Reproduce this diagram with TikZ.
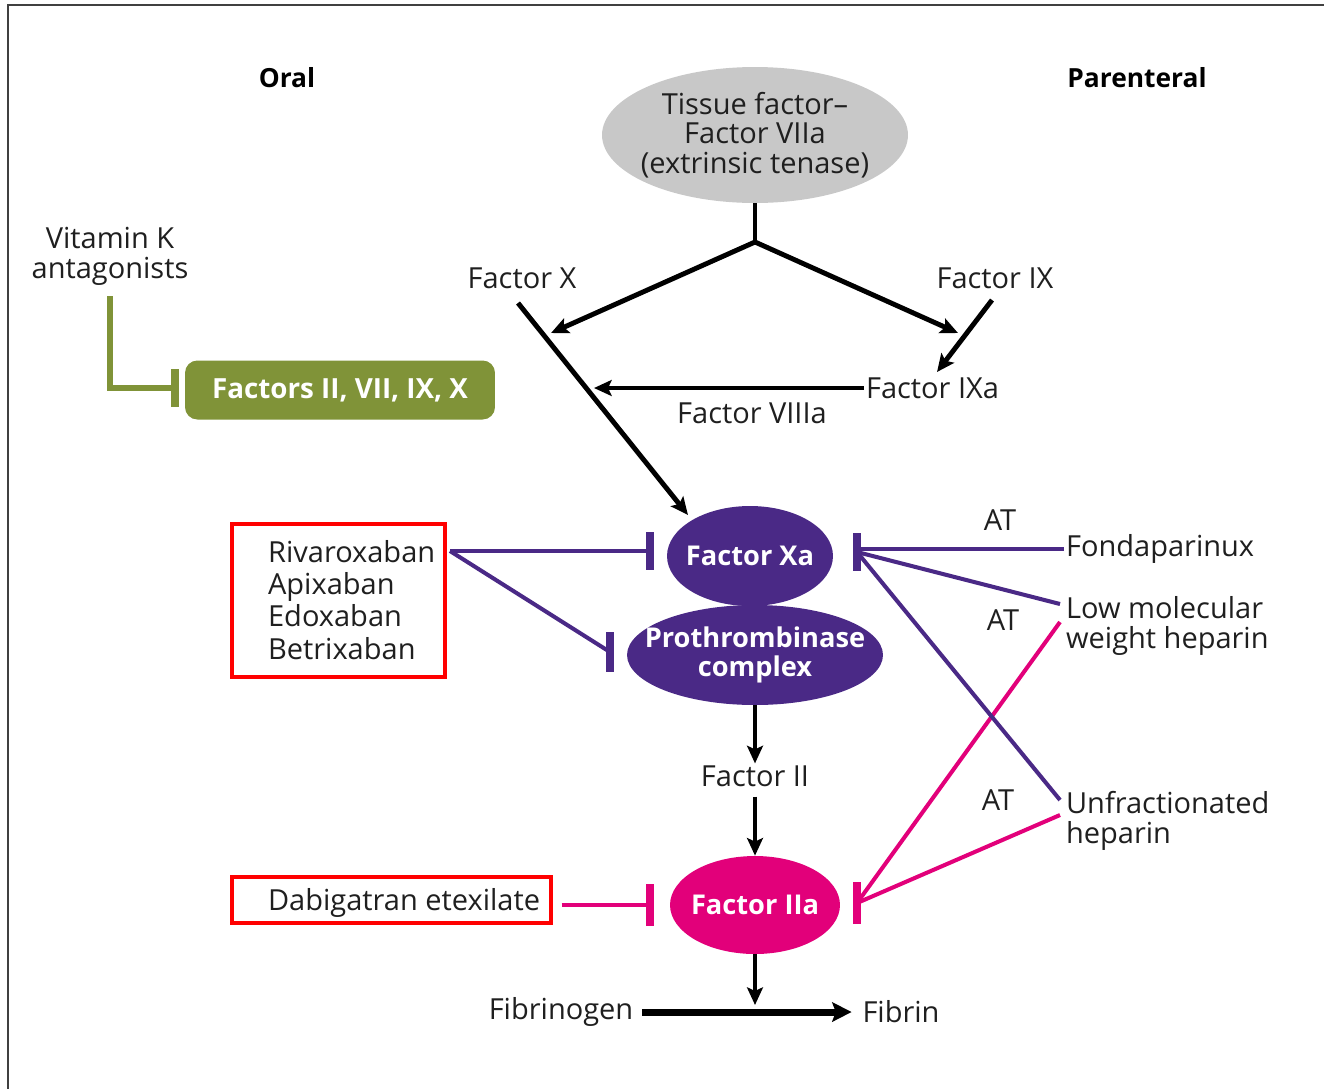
\documentclass[tikz,border=0pt]{standalone}
\usepackage{fontspec}
\setmainfont{Open Sans}
\usetikzlibrary{arrows.meta,shapes.geometric}
\definecolor{xapurple}{RGB}{74,41,134}
\definecolor{iiamagenta}{RGB}{226,0,122}
\definecolor{vkgreen}{RGB}{128,147,56}
\definecolor{tfgray}{RGB}{200,200,200}
\tikzset{
  lbl/.style={font=\fontsize{16.5}{17}\selectfont, text=black!88, align=center, inner sep=1pt},
  head/.style={font=\fontsize{15}{18}\selectfont\bfseries, inner sep=0pt},
  enzyme/.style={ellipse, inner sep=0pt, text=white, align=center, font=\fontsize{15.5}{16.5}\selectfont\bfseries},
  redbox/.style={draw=red, line width=2pt, inner sep=0pt},
  flow/.style={line width=2.8pt, -{Stealth[length=10pt,width=9pt,inset=2pt]}},
  flowline/.style={line width=2.8pt},
  xaline/.style={draw=xapurple, line width=2.3pt},
  iialine/.style={draw=iiamagenta, line width=2.3pt},
  blockbar/.style={line width=4.5pt}
}
\begin{document}
\begin{tikzpicture}[x=0.02cm, y=-0.02cm]
  \useasboundingbox (0,0) rectangle (1324,1089);
  % Frame
  \draw[black!75, line width=1.3pt] (1324,5) -- (8,5) -- (8,1089);
  % Headings
  \node[head] (oral) at (287,78) {Oral};
  \node[head] (parent) at (1137,78) {Parenteral};
  % Extrinsic tenase
  \node[enzyme, fill=tfgray, text=black!88, font=\fontsize{16.5}{16.8}\selectfont, inner xsep=-14pt,
        minimum width=6.12cm, minimum height=2.72cm] (tf) at (755,135)
        {Tissue factor--\\Factor VIIa\\(extrinsic tenase)};
  \coordinate (split) at (755,242);
  \node[lbl] (fx) at (522,278) {Factor X};
  \node[lbl] (fix) at (995,278) {Factor IX};
  \node[lbl, anchor=west] (fixa) at (864,388) {Factor IXa};
  \node[lbl] (fviiia) at (752,413) {Factor VIIIa};
  \coordinate (xtop) at (518,303);
  \coordinate (xhit) at (551,333);
  \coordinate (ixhit) at (958,333);
  \coordinate (ixtop) at (992,300);
  \coordinate (ixend) at (937,372);
  \coordinate (viiihit) at (594,387);
  \coordinate (xaend) at (688,515);
  \draw[flowline] (tf.south) -- (split);
  \draw[flow] (split) -- (xhit);
  \draw[flow] (split) -- (ixhit);
  \draw[flow] (ixtop) -- (ixend);
  \draw[flow] (fixa.west) -- (fixa.west -| viiihit);
  \draw[flow] (xtop) -- (xaend);
  % Vitamin K antagonists
  \node[lbl] (vka) at (110,256) {Vitamin K\\antagonists};
  \node[fill=vkgreen, rounded corners=7pt, minimum width=6.2cm, minimum height=1.18cm,
        text=white, font=\fontsize{15.8}{17}\selectfont\bfseries] (vkf) at (340,390)
        {Factors II, VII, IX, X};
  \coordinate (vkbar) at (175,388);
  \draw[vkgreen, line width=3.4pt] (110,296) |- (vkbar);
  \draw[vkgreen, blockbar] (vkbar) ++(0,-19) -- ++(0,38);
  % Coagulation cascade
  \node[enzyme, fill=xapurple, inner xsep=-12pt, minimum width=5.12cm, minimum height=2cm] (pt) at (755,655)
        {Prothrombinase\\complex};
  \node[enzyme, fill=xapurple, inner xsep=-6pt, minimum width=3.32cm, minimum height=2cm] (xa) at (750,556)
        {Factor Xa};
  \node[lbl] (fii) at (755,776) {Factor II};
  \node[enzyme, fill=iiamagenta, inner xsep=-6pt, minimum width=3.4cm, minimum height=1.96cm] (iia) at (755,905)
        {Factor IIa};
  \node[lbl] (fbg) at (561,1012) {Fibrinogen};
  \node[lbl] (fbn) at (901,1012) {Fibrin};
  \coordinate (fibmid) at (755,1005);
  \draw[flow] (pt.south) -- (fii.north);
  \draw[flow] (fii.south) ++(0,8) -- (iia.north);
  \draw[flow] (iia.south) -- (fibmid);
  \draw[line width=4pt, -{Stealth[length=11pt,width=11pt,inset=2pt]}, shorten <=4pt, shorten >=5pt]
        (fbg.east) -- (fbn.west);
  % Oral Xa inhibitors
  \node[redbox, minimum width=4.26cm, minimum height=3.06cm] (xabox) at (338.5,600.5) {};
  \node[lbl, align=left, anchor=west, font=\fontsize{16.5}{18.3}\selectfont] (xaban) at (266,600)
        {Rivaroxaban\\Apixaban\\Edoxaban\\Betrixaban};
  \coordinate (xabanR) at (450,551);
  \coordinate (xaL) at (650,551);
  \coordinate (ptL) at (610,652);
  \draw[xaline] (xabanR) -- (xaL);
  \draw[xaline] (xabanR) -- (ptL);
  \draw[xapurple, blockbar] (xaL) ++(0,-19) -- ++(0,38);
  \draw[xapurple, blockbar] (ptL) ++(0,-20) -- ++(0,40);
  % Oral IIa inhibitor
  \node[redbox, minimum width=6.38cm, minimum height=0.92cm] (dabibox) at (391.5,900) {};
  \node[lbl, anchor=west] (dabi) at (266,903) {Dabigatran etexilate};
  \coordinate (iiaL) at (650,905);
  \draw[iialine] (dabibox.east) ++(9,5) -- (iiaL);
  \draw[iiamagenta, blockbar] (iiaL) ++(0,-21) -- ++(0,42);
  % Parenteral
  \node[lbl, anchor=west] (fonda) at (1064,549) {Fondaparinux};
  \node[lbl, anchor=west, align=left] (lmwh) at (1064,626) {Low molecular\\weight heparin};
  \node[lbl, anchor=west, align=left] (ufh) at (1064,821) {Unfractionated\\heparin};
  \node[lbl] (at1) at (1000,520) {AT};
  \node[lbl] (at2) at (1003,620) {AT};
  \node[lbl] (at3) at (998,800) {AT};
  \coordinate (xaR) at (857,552);
  \coordinate (iiaR) at (857,903);
  \coordinate (lmwhA) at (1060,604);
  \coordinate (lmwhB) at (1060,622);
  \coordinate (ufhA) at (1060,800);
  \coordinate (ufhB) at (1060,815);
  \draw[iialine] (lmwhB) -- (iiaR);
  \draw[iialine] (ufhB) -- (iiaR);
  \draw[xaline] (fonda.west) -- (fonda.west -| xaR);
  \draw[xaline] (lmwhA) -- (xaR);
  \draw[xaline] (ufhA) -- (xaR);
  \draw[xapurple, blockbar] (xaR) ++(0,-19) -- ++(0,38);
  \draw[iiamagenta, blockbar] (iiaR) ++(0,-21) -- ++(0,42);
\end{tikzpicture}
\end{document}
